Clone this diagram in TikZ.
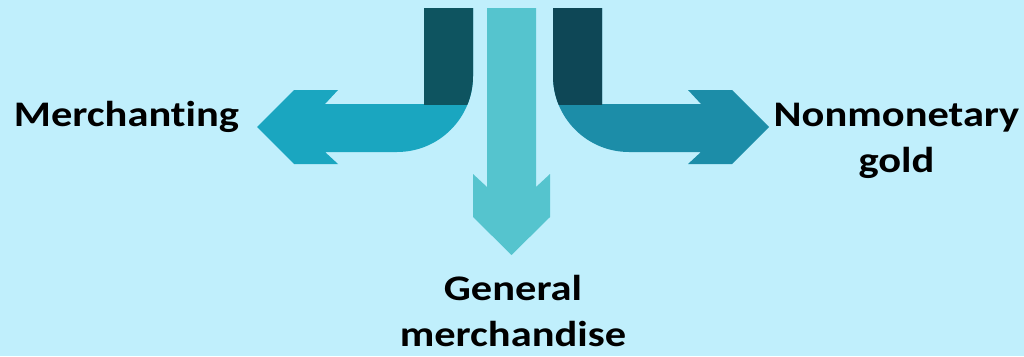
\documentclass[tikz,border=0pt]{standalone}
\usepackage{fontspec}
\setmainfont{Carlito}[Ligatures=CommonOff, FakeStretch=1.18]
\usepackage{tikz}

\definecolor{bgblue}{RGB}{192,239,252}
\definecolor{leftdark}{RGB}{14,84,96}
\definecolor{leftlight}{RGB}{26,166,192}
\definecolor{midteal}{RGB}{85,196,206}
\definecolor{rightdark}{RGB}{14,71,86}
\definecolor{rightlight}{RGB}{28,141,168}

\tikzset{lbl/.style={font=\bfseries\fontsize{36}{46}\selectfont, align=center, inner sep=0pt}}

\begin{document}
\begin{tikzpicture}[x=1pt,y=-1pt]
\fill[bgblue] (0,0) rectangle (1024,356);
\useasboundingbox (0,0) rectangle (1024,356);
% A) Left bend: merchanting
\fill[leftlight] (424,8) -- (473,8) -- (473,76) .. controls (473,118) and (439,152) .. (397,152) -- (325,152) -- (338,164) -- (294,164) -- (257,127) -- (294,90) -- (338,90) -- (325,104) -- (424,104) -- cycle;
\begin{scope}
\clip (0,0) rectangle (1024,104);
\fill[leftdark] (424,8) -- (473,8) -- (473,76) .. controls (473,118) and (439,152) .. (397,152) -- (424,152) -- cycle;
\end{scope}
% B) Straight down: general merchandise
\fill[midteal] (487,8) -- (536,8) -- (536,187) -- (550,174) -- (550,217) -- (511.5,255) -- (473,217) -- (473,174) -- (487,187) -- cycle;
% C) Right bend: nonmonetary gold
\fill[rightlight] (602,8) -- (553,8) -- (553,76) .. controls (553,118) and (587,152) .. (629,152) -- (701,152) -- (688,164) -- (732,164) -- (769,127) -- (732,90) -- (688,90) -- (701,104) -- (602,104) -- cycle;
\begin{scope}
\clip (0,0) rectangle (1024,104);
\fill[rightdark] (602,8) -- (553,8) -- (553,76) .. controls (553,118) and (587,152) .. (629,152) -- (602,152) -- cycle;
\end{scope}
% labels
\node[lbl, anchor=base] (merch) at (126.5,126) {Merchanting};
\node[lbl, anchor=base] (gold) at (896.5,172) {Nonmonetary\\gold};
\node[lbl, anchor=base] (general) at (513,346) {General\\merchandise};
\end{tikzpicture}
\end{document}
